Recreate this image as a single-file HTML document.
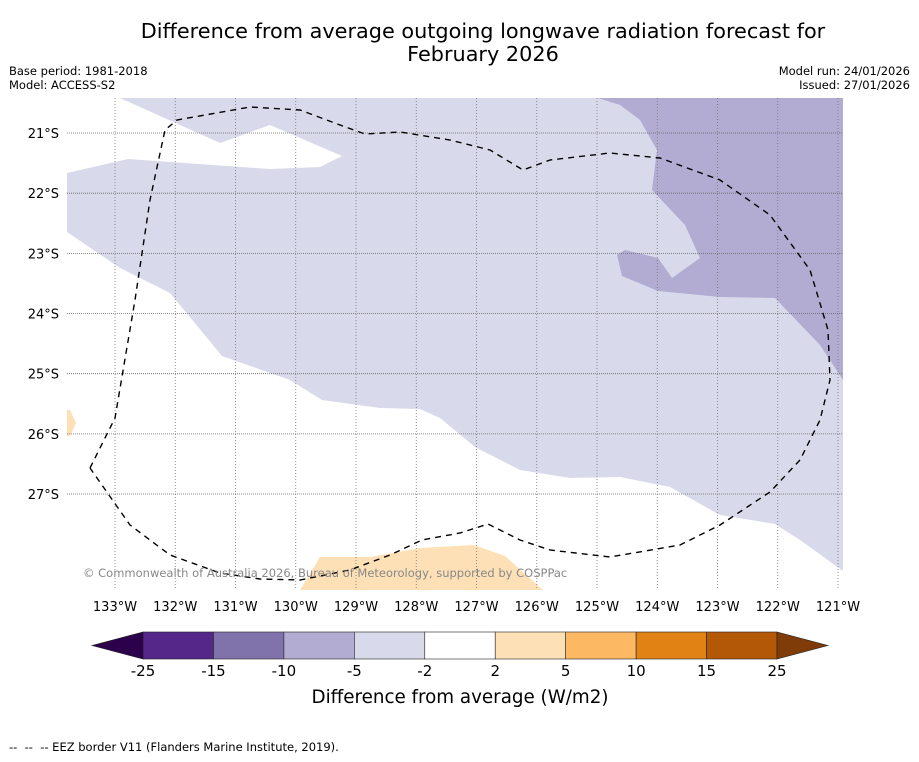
<!DOCTYPE html>
<html><head><meta charset="utf-8">
<style>
body{margin:0;background:#fff;font-family:"DejaVu Sans","Liberation Sans",sans-serif;}
svg text{font-family:"DejaVu Sans","Liberation Sans",sans-serif;}
</style></head>
<body>
<svg id="chart" width="919" height="758" viewBox="0 0 919 758" xmlns="http://www.w3.org/2000/svg">
<rect width="919" height="758" fill="#fff"/>
<text x="483" y="38" font-size="20.8" text-anchor="middle" fill="#000">Difference from average outgoing longwave radiation forecast for</text>
<text x="483" y="61" font-size="20.8" text-anchor="middle" fill="#000">February 2026</text>
<text x="9" y="75" font-size="11.5">Base period: 1981-2018</text>
<text x="9" y="89" font-size="11.5">Model: ACCESS-S2</text>
<text x="910" y="75" font-size="11.5" text-anchor="end">Model run: 24/01/2026</text>
<text x="910" y="89" font-size="11.5" text-anchor="end">Issued: 27/01/2026</text>

<g>
<clipPath id="mc"><rect x="67" y="98" width="776" height="492"/></clipPath>
<g clip-path="url(#mc)">
<polygon fill="#d8daeb" points="120,98 843,98 843,571 800,540 775,524 720,515 670,487 620,477 570,478 520,470 475,447 440,418 420,409 380,408 322,400 290,380 222,356 170,293 120,268 67,232 67,173 128,159 270,169 320,167 342,156 270,125 220,143"/>
<polygon fill="#b2abd2" points="598,98 843,98 843,380 820,345 775,298 720,297 658,291 622,276 617,255 625,250 658,258 672,278 700,258 685,225 652,190 657,150 640,120 620,105"/>
<polygon fill="#fee0b6" points="300,590 320,557 370,557 420,548 474,545 505,556 543,590"/>
<polygon fill="#fee0b6" points="67,410 70,410 76,423 70,436 67,436"/>
<g id="grid"></g>
<polyline fill="none" stroke="#000" stroke-width="1.4" stroke-dasharray="6,5" points="90,468 115,418 135,300 150,200 165,130 177,120 250,107 300,110 340,125 365,134 400,132 450,140 490,150 523,170 550,160 610,153 660,158 720,180 770,215 810,270 828,330 830,380 820,420 800,460 770,492 720,525 680,545 610,557 550,550 520,540 488,524 460,533 422,540 390,555 350,570 300,580 260,579 220,573 170,555 130,525 90,468"/>
</g>
<text x="83" y="577" font-size="11.5" fill="#888">© Commonwealth of Australia 2026, Bureau of Meteorology, supported by COSPPac</text>
<g id="axes"></g>
</g>

<g id="cbar"></g>
<text x="460" y="703" font-size="18.3" text-anchor="middle">Difference from average (W/m2)</text>
<text x="9" y="751" font-size="11.5" xml:space="preserve">--  --  -- EEZ border V11 (Flanders Marine Institute, 2019).</text>
</svg>
<script>
const lons=[133,132,131,130,129,128,127,126,125,124,123,122,121];
const lats=[21,22,23,24,25,26,27];
const cbLevels=["-25","-15","-10","-5","-2","2","5","10","15","25"];
const cbColors=["#542788","#8073ac","#b2abd2","#d8daeb","#ffffff","#fee0b6","#fdb863","#e08214","#b35806"];
const cbExt=["#2d004b","#7f3b08"];
const NS="http://www.w3.org/2000/svg";
function xLon(l){return 115+(133-l)*60.25;}
function yLat(l){return 133+(l-21)*60.17;}
function mk(t,a,p){const e=document.createElementNS(NS,t);for(const k in a)e.setAttribute(k,a[k]);p.appendChild(e);return e;}
const grid=document.getElementById('grid'),axes=document.getElementById('axes');
lons.forEach(l=>{const x=xLon(l);
 const g=mk('line',{x1:x,x2:x,y1:98,y2:590,stroke:'#777','stroke-width':0.8,'stroke-dasharray':'1,2'},grid);
 
 
 const t=mk('text',{x:x,y:611,'font-size':13,'text-anchor':'middle'},axes);t.textContent=l+'°W';
 
 });
lats.forEach(l=>{const y=yLat(l);
 const g=mk('line',{x1:67,x2:843,y1:y,y2:y,stroke:'#666','stroke-width':0.8,'stroke-dasharray':'1,1'},grid);
 
 
 const t=mk('text',{x:59,y:y+5,'font-size':13,'text-anchor':'end'},axes);t.textContent=l+'°S';
 
 });
const cb=document.getElementById('cbar');
const cx0=143,cx1=777,cy=632,ch=27,bw=(cx1-cx0)/cbColors.length;
cbColors.forEach((c,i)=>{const r=mk('rect',{x:cx0+i*bw,y:cy,width:bw,height:ch,fill:c,stroke:'#222','stroke-width':0.6},cb);
 
 });
const l=mk('polygon',{points:`${cx0},${cy} ${cx0},${cy+ch} 92,${cy+ch/2}`,fill:cbExt[0],stroke:'#222','stroke-width':0.6},cb);


const r=mk('polygon',{points:`${cx1},${cy} ${cx1},${cy+ch} 828,${cy+ch/2}`,fill:cbExt[1],stroke:'#222','stroke-width':0.6},cb);


cbLevels.forEach((v,i)=>{const t=mk('text',{x:cx0+i*bw,y:676,'font-size':15,'text-anchor':'middle'},cb);t.textContent=v;
 
 });
</script>
</body></html>
